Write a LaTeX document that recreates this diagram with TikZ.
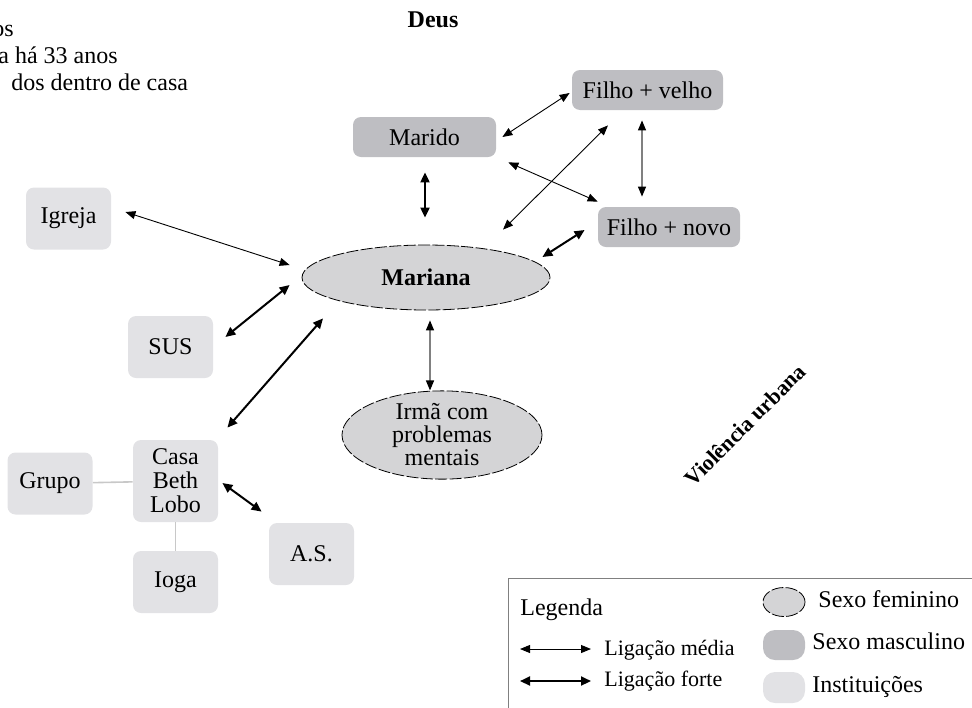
\documentclass[tikz,border=0pt]{standalone}
\usepackage{fontspec}
\setmainfont{Liberation Serif}
\usetikzlibrary{shapes.geometric,arrows.meta}

\definecolor{mascgray}{RGB}{190,190,194}
\definecolor{instgray}{RGB}{226,226,229}
\definecolor{femgray}{RGB}{212,212,214}
\definecolor{linkgray}{RGB}{200,200,200}

\begin{document}
\begin{tikzpicture}[x=0.5pt,y=-0.5pt,
  every node/.style={font=\fontsize{12}{12}\selectfont},
  mascbox/.style={fill=mascgray,rounded corners=4pt,inner sep=0pt},
  instbox/.style={fill=instgray,rounded corners=4pt,inner sep=0pt,minimum width=42.5pt,minimum height=31pt,align=center},
  femnode/.style={ellipse,fill=femgray,draw,line width=0.4pt,dash pattern=on 6pt off 1.2pt,inner sep=0pt,align=center},
  medium/.style={line width=0.45pt,{Triangle[length=5pt,width=4pt]}-{Triangle[length=5pt,width=4pt]}},
  mediumgray/.style={draw=gray,line width=0.6pt,{Triangle[length=5pt,width=4pt,color=black]}-{Triangle[length=5pt,width=4pt,color=black]}},
  strong/.style={line width=1pt,{Triangle[length=5pt,width=4.5pt]}-{Triangle[length=5pt,width=4.5pt]}},
  tie/.style={draw=linkgray,line width=0.8pt}]
  \useasboundingbox (0,0) rectangle (972,707);

  % texto do topo
  \node[anchor=base west,inner sep=0pt] (t1) at (-8,36) {os};
  \node[anchor=base west,inner sep=0pt] (t2) at (-2,63) {a há 33 anos};
  \node[anchor=base west,inner sep=0pt] (t3) at (11,90) {dos dentro de casa};
  \node[anchor=base,font=\fontsize{12}{12}\selectfont\bfseries] (deus) at (433,27) {Deus};

  % familia
  \node[mascbox,minimum width=71.5pt,minimum height=20pt] (marido) at (424.5,137) {Marido};
  \node[mascbox,minimum width=75.5pt,minimum height=20pt] (fvelho) at (647.5,90) {Filho + velho};
  \node[mascbox,minimum width=71pt,minimum height=20pt] (fnovo) at (669,227) {Filho + novo};
  \node[femnode,minimum width=124pt,minimum height=32.5pt,font=\fontsize{12}{12}\selectfont\bfseries] (mariana) at (426,277.5) {Mariana};
  \node[femnode,minimum width=100pt,minimum height=43pt,font=\fontsize{12}{11.5}\selectfont] (irma) at (442,435) {Irmã com\\problemas\\mentais};

  % instituicoes
  \node[instbox] (igreja) at (68.5,218.5) {Igreja};
  \node[instbox] (sus) at (170.5,347) {SUS};
  \node[instbox,minimum height=41pt] (casa) at (175.5,481) {Casa\\Beth\\Lobo};
  \node[instbox] (grupo) at (50,483.5) {Grupo};
  \node[instbox] (ioga) at (175.5,582) {Ioga};
  \node[instbox] (as) at (311.5,554) {A.S.};

  \draw[tie] (grupo) -- (casa);
  \draw[tie] (casa) -- (ioga);

  % ligacoes
  \draw[medium] ([shift={(6,0)}]marido.east) -- ([shift={(-2,3)}]fvelho.west);
  \draw[strong] ([shift={(0.5,15)}]marido.south) -- ([shift={(-1,-27)}]mariana.north);
  \draw[medium] ([shift={(12,5)}]marido.south east) -- ([shift={(0,-5)}]fnovo.north west);
  \draw[medium] ([shift={(-39.5,15)}]fvelho.south) -- ([shift={(77,-15)}]mariana.north);
  \draw[mediumgray] ([shift={(-5.5,10)}]fvelho.south) -- ([shift={(-27,-10)}]fnovo.north);
  \draw[strong] ([shift={(-13,3)}]fnovo.west) -- ([shift={(-8,-20.5)}]mariana.east);
  \draw[medium] ([shift={(14,-6.5)}]igreja.east) -- ([shift={(-12,-12.5)}]mariana.west);
  \draw[strong] ([shift={(12,-10)}]sus.east) -- ([shift={(-12,7.5)}]mariana.west);
  \draw[strong] ([shift={(9,-12)}]casa.north east) -- ([shift={(-103,8)}]mariana.south);
  \draw[mediumgray] ([shift={(4,10)}]mariana.south) -- ([shift={(-12,0)}]irma.north);
  \draw[strong] ([shift={(4,2)}]casa.east) -- ([shift={(-7,-11)}]as.north west);

  \node[rotate=45,font=\fontsize{11}{11}\selectfont\bfseries] (violencia) at (745,425) {Violência urbana};

  % legenda
  \draw[gray,line width=0.5pt] (508,720) -- (508,578) -- (990,578);
  \node[anchor=base west,inner sep=0pt] (legenda) at (520,615) {Legenda};
  \coordinate (m1) at (520,649);
  \coordinate (m2) at (591,649);
  \coordinate (f1) at (520,681);
  \coordinate (f2) at (591,681);
  \draw[medium] (m1) -- (m2);
  \draw[strong] (f1) -- (f2);
  \node[anchor=base west,inner sep=0pt,font=\fontsize{11}{11}\selectfont] (lmedia) at (604,655) {Ligação média};
  \node[anchor=base west,inner sep=0pt,font=\fontsize{11}{11}\selectfont] (lforte) at (604,686) {Ligação forte};
  \node[femnode,minimum width=21pt,minimum height=14.5pt] (lfem) at (784,602) {};
  \node[mascbox,minimum width=21pt,minimum height=15pt,rounded corners=6pt] (lmasc) at (784,645) {};
  \node[instbox,minimum width=21pt,minimum height=15.5pt,rounded corners=6pt] (linst) at (784,687.5) {};
  \node[anchor=base west,inner sep=0pt] (tfem) at (818,607) {Sexo feminino};
  \node[anchor=base west,inner sep=0pt] (tmasc) at (812,649) {Sexo masculino};
  \node[anchor=base west,inner sep=0pt] (tinst) at (812,692) {Instituições};
\end{tikzpicture}
\end{document}
